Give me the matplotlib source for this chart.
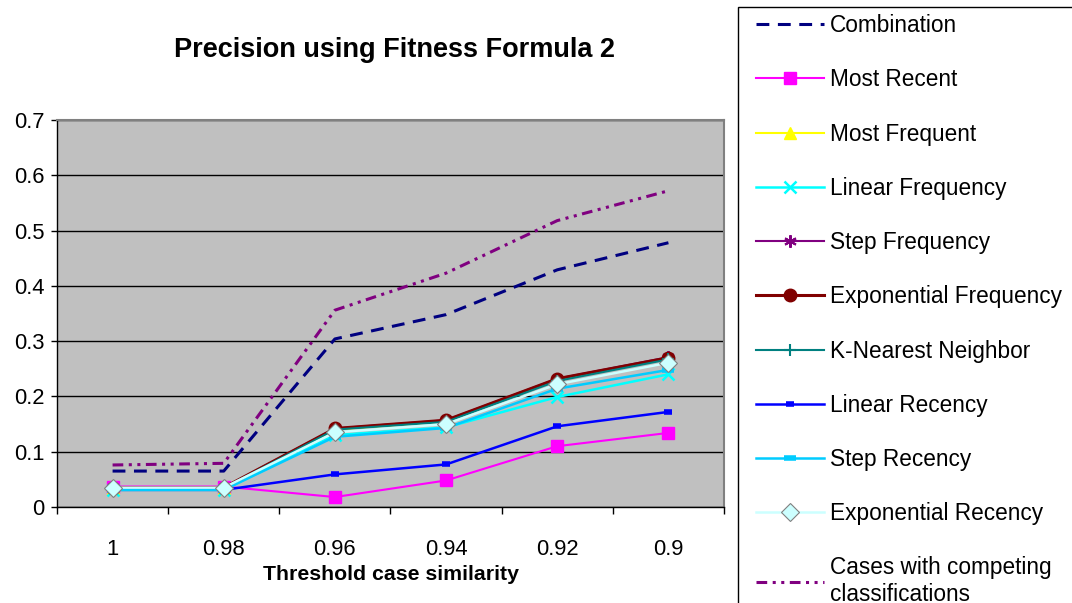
import matplotlib
matplotlib.use("Agg")
import matplotlib.pyplot as plt
import numpy as np

plt.rcParams['font.family'] = ['Liberation Sans', 'DejaVu Sans']

# threshold categories
thresholds = ['1', '0.98', '0.96', '0.94', '0.92', '0.9']

# precision per method
combination = [0.065, 0.065, 0.304, 0.348, 0.429, 0.478]
most_recent = [0.037, 0.037, 0.018, 0.048, 0.110, 0.134]
most_frequent = [0.034, 0.034, 0.140, 0.155, 0.230, 0.270]
linear_frequency = [0.031, 0.031, 0.130, 0.144, 0.199, 0.240]
step_frequency = [0.035, 0.035, 0.142, 0.157, 0.232, 0.271]
exponential_frequency = [0.035, 0.035, 0.142, 0.157, 0.232, 0.270]
k_nearest = [0.034, 0.034, 0.140, 0.154, 0.228, 0.267]
linear_recency = [0.031, 0.031, 0.059, 0.077, 0.146, 0.172]
step_recency = [0.031, 0.031, 0.127, 0.143, 0.214, 0.248]
exponential_recency = [0.035, 0.035, 0.135, 0.150, 0.222, 0.261]
competing = [0.076, 0.079, 0.356, 0.423, 0.518, 0.572]

fig = plt.figure(figsize=(10.72, 6.03), dpi=100)
ax = fig.add_axes([57/1072, 1-507/603, 667/1072, 387/603])
ax.set_facecolor('#C0C0C0')

x = np.arange(len(thresholds))

ax.plot(x, combination, color='#000080', lw=2.2, dashes=(4.2, 2.8), label='Combination')
ax.plot(x, most_recent, color='#FF00FF', lw=1.5, marker='s', ms=9, label='Most Recent')
ax.plot(x, most_frequent, color='#FFFF00', lw=1.5, marker='^', ms=9, label='Most Frequent')
ax.plot(x, linear_frequency, color='#00FFFF', lw=1.8, marker='x', ms=9, mew=1.8, label='Linear Frequency')
ax.plot(x, step_frequency, color='#800080', lw=1.5, marker=(6, 2, 0), ms=9, mew=1.5, label='Step Frequency')
ax.plot(x, exponential_frequency, color='#800000', lw=2.2, marker='o', ms=9, label='Exponential Frequency')
ax.plot(x, k_nearest, color='#008080', lw=1.5, marker='+', ms=9, mew=1.5, label='K-Nearest Neighbor')
ax.plot(x, linear_recency, color='#0000FF', lw=1.8, marker='_', ms=6, mew=4, label='Linear Recency')
ax.plot(x, step_recency, color='#00CCFF', lw=1.8, marker='_', ms=8, mew=4, label='Step Recency')
ax.plot(x, exponential_recency, color='#CCFFFF', lw=1.8, marker='D', ms=9,
        mfc='#CCFFFF', mec='#808080', mew=0.8, label='Exponential Recency')
ax.plot(x, competing, color='#800080', lw=2.2, dashes=(3.5, 1.8, 1, 1.8, 1, 1.8),
        label='Cases with competing\nclassifications')

ax.set_xlim(-0.5, 5.5)
ax.set_ylim(0, 0.7)
ax.set_yticks(np.arange(0, 0.71, 0.1))
ax.set_yticklabels(['0', '0.1', '0.2', '0.3', '0.4', '0.5', '0.6', '0.7'])
ax.yaxis.grid(True, color='black', lw=1)
ax.set_axisbelow(True)
ax.set_xticks(x)
ax.set_xticklabels(thresholds)
ax.set_xticks(np.arange(-0.5, 5.6, 1), minor=True)
ax.tick_params(axis='x', which='major', length=0, pad=23, labelsize=15.8)
ax.tick_params(axis='x', which='minor', length=5, width=1, direction='out')
ax.tick_params(axis='y', length=4, width=1, direction='out', pad=5, labelsize=15.8)

for s in ['top', 'right']:
    ax.spines[s].set_color('#808080')
    ax.spines[s].set_linewidth(1.5)
for s in ['left', 'bottom']:
    ax.spines[s].set_color('black')
    ax.spines[s].set_linewidth(1)

fig.text(395/1072, 1-50/603, 'Precision using Fitness Formula 2', ha='center', va='center',
         fontsize=19.5, fontweight='bold')
fig.text(391/1072, 1-575/603, 'Threshold case similarity', ha='center', va='center',
         fontsize=15.3, fontweight='bold')

fig.legend(loc='upper left', bbox_to_anchor=(747/1072, 1-5/603), frameon=False,
           fontsize=16.3, handlelength=3.0, labelspacing=1.38, handletextpad=0.25,
           borderaxespad=0)
fig.add_artist(plt.Rectangle((738/1072, -0.05), 0.5, 1.05 - 7/603, transform=fig.transFigure,
                             fill=False, ec='black', lw=1))

fig.savefig('out.png', dpi=100)
